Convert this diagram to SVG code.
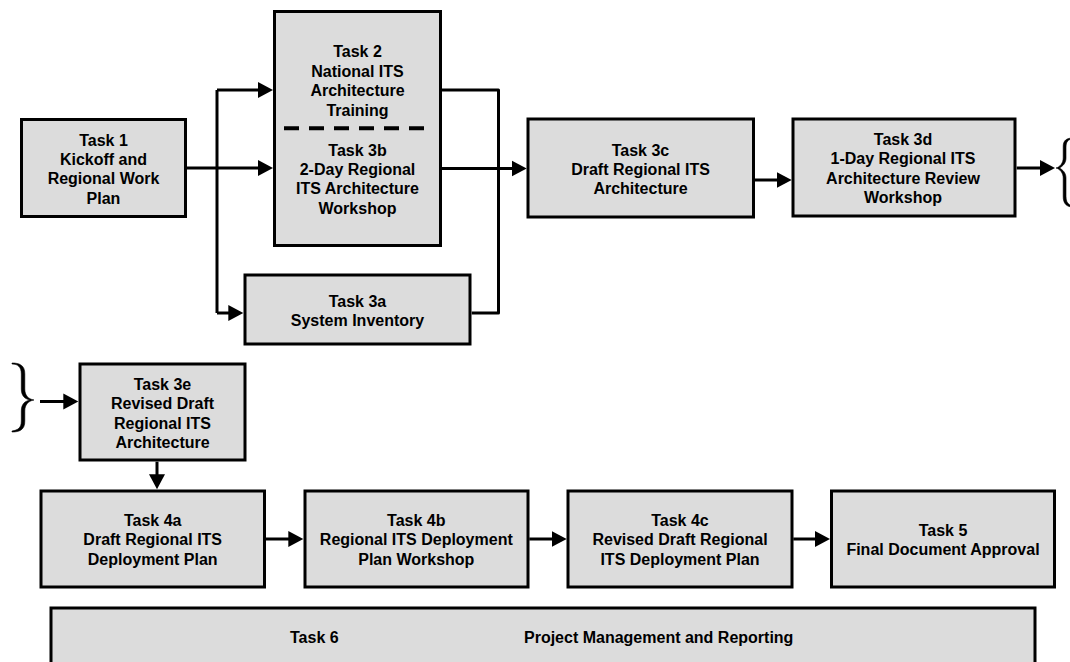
<svg xmlns="http://www.w3.org/2000/svg" width="1070" height="662" viewBox="0 0 1070 662">
<defs>
<style>
.box{fill:#dcdcdc;stroke:#000;stroke-width:3}
.t{font-family:"Liberation Sans",Arial,sans-serif;font-size:16px;font-weight:bold;fill:#000;text-anchor:middle}
.tl{font-family:"Liberation Sans",Arial,sans-serif;font-size:16px;font-weight:bold;fill:#000}
.c{fill:none;stroke:#000;stroke-width:3;stroke-linejoin:round}
.a{marker-end:url(#ah)}
.br{fill:#000;stroke:#000;stroke-width:0.6}
</style>
<marker id="ah" markerUnits="userSpaceOnUse" markerWidth="16" markerHeight="17" refX="9" refY="8" orient="auto" viewBox="0 0 16 16">
<path d="M0,0 L15,8 L0,16 z" fill="#000"/>
</marker>
</defs>
<rect width="1070" height="662" fill="#fff"/>

<g id="connectors">
<path class="c a" d="M187,168 L267,168"/>
<path class="c" d="M217,90 L217,313"/>
<path class="c a" d="M217,90 L267,90"/>
<path class="c a" d="M217,313 L237.3,313"/>
<path class="c" d="M442,90 L498.5,90 L498.5,313 L471.7,313"/>
<path class="c a" d="M442,168.5 L520.7,168.5"/>
<path class="c a" d="M755,180 L785.7,180"/>
<path class="c a" d="M1016.7,168 L1049,168"/>
<path class="c a" d="M40,401.5 L72.3,401.5"/>
<path class="c a" d="M157,461.7 L157,483.3"/>
<path class="c a" d="M266,539 L297.3,539"/>
<path class="c a" d="M529.3,539 L560.7,539"/>
<path class="c a" d="M793.3,539 L824,539"/>
<path class="br" d="M12,363 C19,363 25,365 24.8,374 L24.8,389 C24.8,395 28,399 34,400 C28,401 24.8,405 24.8,411 L24.8,421 C25,430 19,432 12,432 L12,431 C18,430 21.3,428 21.3,421 L21.3,411 C21.3,404 25,401 30,400 C25,399 21.3,396 21.3,389 L21.3,374 C21.3,367 18,364 12,364 Z"/>
<path class="br" d="M1073,138 C1067,138 1063,140 1063.2,147 L1063.2,158 C1063.2,163 1060,167 1056,168 C1060,169 1063.2,173 1063.2,178 L1063.2,196 C1063,204 1067,207 1073,207 L1073,206 C1068,205 1066,202 1066,196 L1066,178 C1066,173 1063,170 1059.5,168 C1063,166 1066,163 1066,158 L1066,147 C1066,142 1068,139 1073,139 Z"/>
</g>

<g id="task1">
<rect class="box" x="21.5" y="119.5" width="164" height="97"/>
<text class="t" x="103.5" y="145.7">Task 1</text>
<text class="t" x="103.5" y="165">Kickoff and</text>
<text class="t" x="103.5" y="184.3">Regional Work</text>
<text class="t" x="103.5" y="203.7">Plan</text>
</g>

<g id="task2-3b">
<rect class="box" x="274.5" y="11.5" width="166" height="234"/>
<line x1="284" y1="128.3" x2="427" y2="128.3" stroke="#000" stroke-width="4" stroke-dasharray="15 10"/>
<text class="t" x="357.5" y="57.3">Task 2</text>
<text class="t" x="357.5" y="76.7">National ITS</text>
<text class="t" x="357.5" y="96">Architecture</text>
<text class="t" x="357.5" y="115.5">Training</text>
<text class="t" x="357.5" y="155.7">Task 3b</text>
<text class="t" x="357.5" y="175">2-Day Regional</text>
<text class="t" x="357.5" y="194.3">ITS Architecture</text>
<text class="t" x="357.5" y="213.7">Workshop</text>
</g>

<g id="task3a">
<rect class="box" x="245" y="275" width="225" height="69"/>
<text class="t" x="357.5" y="306.7">Task 3a</text>
<text class="t" x="357.5" y="326.3">System Inventory</text>
</g>

<g id="task3c">
<rect class="box" x="528" y="119" width="225.5" height="98"/>
<text class="t" x="640.5" y="155.7">Task 3c</text>
<text class="t" x="640.5" y="175">Draft Regional ITS</text>
<text class="t" x="640.5" y="194.3">Architecture</text>
</g>

<g id="task3d">
<rect class="box" x="793" y="119" width="222" height="97"/>
<text class="t" x="903" y="145">Task 3d</text>
<text class="t" x="903" y="164.3">1-Day Regional ITS</text>
<text class="t" x="903" y="183.6">Architecture Review</text>
<text class="t" x="903" y="203">Workshop</text>
</g>

<g id="task3e">
<rect class="box" x="80" y="364" width="165" height="96"/>
<text class="t" x="162.5" y="390">Task 3e</text>
<text class="t" x="162.5" y="409.3">Revised Draft</text>
<text class="t" x="162.5" y="428.6">Regional ITS</text>
<text class="t" x="162.5" y="448">Architecture</text>
</g>

<g id="task4a">
<rect class="box" x="41" y="491" width="223.5" height="96"/>
<text class="t" x="152.7" y="526">Task 4a</text>
<text class="t" x="152.7" y="545.3">Draft Regional ITS</text>
<text class="t" x="152.7" y="564.6">Deployment Plan</text>
</g>

<g id="task4b">
<rect class="box" x="305" y="491" width="223" height="96"/>
<text class="t" x="416.3" y="526">Task 4b</text>
<text class="t" x="416.3" y="545.3">Regional ITS Deployment</text>
<text class="t" x="416.3" y="564.6">Plan Workshop</text>
</g>

<g id="task4c">
<rect class="box" x="568" y="491" width="224" height="96"/>
<text class="t" x="680" y="526">Task 4c</text>
<text class="t" x="680" y="545.3">Revised Draft Regional</text>
<text class="t" x="680" y="564.6">ITS Deployment Plan</text>
</g>

<g id="task5">
<rect class="box" x="831.5" y="491" width="223" height="96"/>
<text class="t" x="943" y="536">Task 5</text>
<text class="t" x="943" y="555.3">Final Document Approval</text>
</g>

<g id="task6">
<rect class="box" x="51" y="608" width="984" height="70"/>
<text class="tl" x="290" y="642.7">Task 6</text>
<text class="tl" x="524" y="642.7">Project Management and Reporting</text>
</g>
</svg>
